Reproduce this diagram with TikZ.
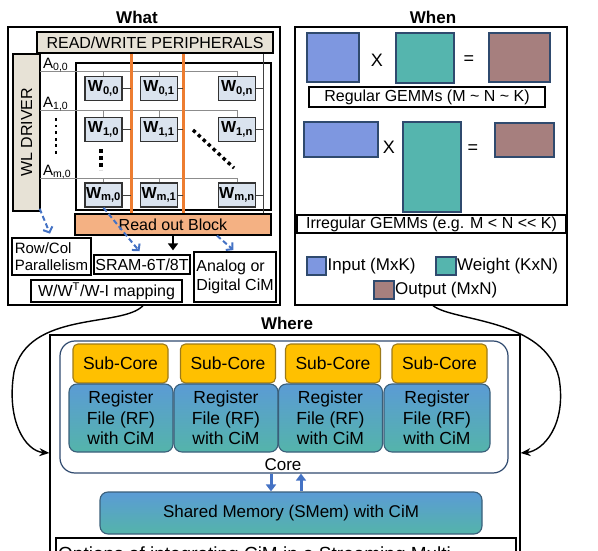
\documentclass[tikz,border=0pt]{standalone}
\usepackage{fontspec}
\setmainfont{Liberation Sans}
\usetikzlibrary{arrows.meta,calc}
\definecolor{peri}{HTML}{E7E2D6}
\definecolor{cellc}{HTML}{DAE3EE}
\definecolor{olin}{HTML}{ED7D31}
\definecolor{readout}{HTML}{F4B183}
\definecolor{dblue}{HTML}{4472C4}
\definecolor{inblue}{HTML}{7E97E0}
\definecolor{wteal}{HTML}{55B5AE}
\definecolor{obrown}{HTML}{A67F7E}
\definecolor{mborder}{HTML}{2F4A6E}
\definecolor{subc}{HTML}{FFC000}
\definecolor{subcb}{HTML}{9C7A1A}
\definecolor{rftop}{HTML}{5B9BD5}
\definecolor{rfbot}{HTML}{54B4AA}
\definecolor{rfbord}{HTML}{3A5F7A}
\begin{document}
\begin{tikzpicture}[x=1pt,y=-1pt,
  box/.style={draw=black,line width=1.3pt,inner sep=0pt},
  ttl/.style={font=\bfseries\fontsize{17}{19}\selectfont,inner sep=0pt},
  fa/.style={font=\fontsize{15}{17}\selectfont},
  fb/.style={font=\fontsize{16}{18}\selectfont},
  fc/.style={font=\fontsize{17}{19}\selectfont},
  cell/.style={draw=black!80,line width=1.5pt,fill=cellc,minimum width=37pt,minimum height=24pt,inner sep=0pt,font=\bfseries\fontsize{16}{18}\selectfont},
  wire/.style={draw=black!45,line width=0.9pt},
  stub/.style={draw=black!75,line width=1pt},
  oline/.style={draw=olin,line width=3pt},
  bdash/.style={draw=dblue,line width=2pt,dash pattern=on 5pt off 3pt,-{Straight Barb[length=4.5pt,width=10pt]}},
  mat/.style={draw=mborder,line width=1.5pt,inner sep=0pt},
  subcore/.style={draw=subcb,line width=1.1pt,fill=subc,rounded corners=5pt,minimum width=95pt,minimum height=39pt,inner sep=0pt,font=\fontsize{17.5}{19}\selectfont},
  rf/.style={draw=rfbord,line width=1.1pt,top color=rftop,bottom color=rfbot,rounded corners=8pt,minimum width=104pt,minimum height=68pt,inner sep=0pt,align=center,font=\fontsize{17.5}{20.5}\selectfont},
  varrow/.style={draw=dblue,line width=3pt,-{Triangle[length=7pt,width=10pt]}},
  carrow/.style={draw=black,line width=1.4pt,-{Stealth[length=10pt,width=8pt]}}
]
\useasboundingbox (0,0) rectangle (598,551);
\clip (0,0) rectangle (598,551);

% ---------------- WHAT ----------------
\node[ttl] (twhat) at (137,17) {What};
\node[box,minimum width=272pt,minimum height=278pt] (what) at (144,166) {};
\node[box,fill=peri,minimum width=236pt,minimum height=21pt,fb] (peri) at (155,42.5) {READ/WRITE PERIPHERALS};
\node[box,fill=peri,minimum width=27pt,minimum height=157pt] (wld) at (26.5,132.5) {};
\node[fb,rotate=90,inner sep=0pt] (wltxt) at (wld.center) {WL DRIVER};
\node[draw=black,line width=1.6pt,minimum width=195pt,minimum height=147pt,inner sep=0pt] (grid) at (173.5,136.5) {};

\coordinate (bl0) at (131,53);
\coordinate (bl1) at (183,53);
\coordinate (bln) at (263,53);
\coordinate (wl0) at (40,71);
\coordinate (wl1) at (40,110);
\coordinate (wlm) at (40,178);

% cells
\node[cell] (w00) at (103.5,88.5) {W\textsubscript{0,0}};
\node[cell] (w01) at (159,88.5) {W\textsubscript{0,1}};
\node[cell] (w0n) at (237,88.5) {W\textsubscript{0,n}};
\node[cell] (w10) at (103.5,129.5) {W\textsubscript{1,0}};
\node[cell] (w11) at (159,129.5) {W\textsubscript{1,1}};
\node[cell] (w1n) at (237,129.5) {W\textsubscript{1,n}};
\node[cell] (wm0) at (103.5,195) {W\textsubscript{m,0}};
\node[cell] (wm1) at (159,195) {W\textsubscript{m,1}};
\node[cell] (wmn) at (237,195) {W\textsubscript{m,n}};

\node[box,fill=readout,minimum width=196pt,minimum height=21pt,fb] (ro) at (173,224.5) {Read out Block};

% word lines
\draw[wire] (wl0) -- (wl0 -| w0n.north);
\draw[wire] (wl1) -- (wl1 -| w1n.north);
\draw[wire] (wlm) -- (wlm -| wmn.north);
\foreach \c in {w00,w01,w0n}{\draw[wire] (\c.north) -- (\c.north |- wl0);}
\foreach \c in {w10,w11,w1n}{\draw[wire] (\c.north) -- (\c.north |- wl1);}
\foreach \c in {wm0,wm1,wmn}{\draw[wire] (\c.north) -- (\c.north |- wlm);}

% bit lines
\draw[oline] (peri.south -| bl0) -- (ro.north -| bl0);
\draw[oline] (peri.south -| bl1) -- (ro.north -| bl1);
\draw[stub] (peri.south -| bln) -- (ro.north -| bln);
\foreach \c in {w00,w10,wm0}{\draw[stub] (\c.east) -- (\c.east -| bl0);}
\foreach \c in {w01,w11,wm1}{\draw[stub] (\c.east) -- (\c.east -| bl1);}
\foreach \c in {w0n,w1n,wmn}{\draw[stub] (\c.east) -- (\c.east -| bln);}

% labels A
\node[fa,anchor=base west,inner sep=0pt] (a00) at (43,68.5) {A\textsubscript{0,0}};
\node[fa,anchor=base west,inner sep=0pt] (a10) at (43,107.5) {A\textsubscript{1,0}};
\node[fa,anchor=base west,inner sep=0pt] (am0) at (43,175.5) {A\textsubscript{m,0}};

% dots
\draw[line width=2.8pt,dash pattern=on 2.8pt off 3.8pt] (56,118) -- (56,157);
\draw[line width=3.6pt,dash pattern=on 3.6pt off 3.4pt] (101,149) -- (101,170);
\draw[line width=3.4pt,dash pattern=on 3.4pt off 3.4pt] (193,130) -- (234,168);

% bottom boxes of What
\node[box,minimum width=79pt,minimum height=37pt,align=left,font=\fontsize{15}{17}\selectfont] (rowcol) at (51.5,256.5) {Row/Col\\Parallelism};
\node[box,minimum width=96pt,minimum height=19pt,fb] (sram) at (142,264.5) {SRAM-6T/8T};
\node[box,minimum width=82pt,minimum height=50pt,align=left,font=\fontsize{16}{19}\selectfont] (analog) at (235,277) {Analog or\\Digital CiM};
\node[box,minimum width=151pt,minimum height=22pt,fb] (mapping) at (106.5,291) {W/W\textsuperscript{T}/W-I mapping};

\draw[line width=2.6pt,-{Triangle[length=7pt,width=10pt]},shorten >=4pt] (ro.south) -- (ro.south |- sram.north);
\draw[bdash,shorten >=4pt] ($(wld.south east)+(-1,-3)$) -- (rowcol.north);
\draw[bdash,shorten >=4pt] (wm0.south) -- (sram.north);
\draw[bdash,shorten >=2pt] (ro.south -| 217,0) -- (analog.north);

% ---------------- WHEN ----------------
\node[ttl] (twhen) at (433,17) {When};
\node[box,minimum width=272pt,minimum height=278pt] (when) at (431,166) {};
\node[mat,fill=inblue,minimum width=52pt,minimum height=49pt] (i1) at (333,57.5) {};
\node[mat,fill=wteal,minimum width=58pt,minimum height=50pt] (k1) at (425,58) {};
\node[mat,fill=obrown,minimum width=61pt,minimum height=49pt] (o1) at (519.5,57.5) {};
\node[font=\fontsize{18}{20}\selectfont,inner sep=0pt] (x1) at (377,60) {X};
\node[font=\fontsize{18}{20}\selectfont,inner sep=0pt] (e1) at (469,60) {=};
\node[box,minimum width=236pt,minimum height=20pt,fb] (reg) at (427,97) {Regular GEMMs (M \textasciitilde{} N \textasciitilde{} K)};

\node[mat,fill=inblue,minimum width=74pt,minimum height=35pt] (i2) at (341,139.5) {};
\node[mat,fill=wteal,minimum width=58pt,minimum height=90pt] (k2) at (432,167) {};
\node[mat,fill=obrown,minimum width=59pt,minimum height=34pt] (o2) at (524.5,140) {};
\node[font=\fontsize{18}{20}\selectfont,inner sep=0pt] (x2) at (389,147) {X};
\node[font=\fontsize{18}{20}\selectfont,inner sep=0pt] (e2) at (473,149) {=};
\node[box,minimum width=269pt,minimum height=18pt,fb] (irr) at (431.5,224) {Irregular GEMMs (e.g. M {<} N {<}{<} K)};

\node[mat,fill=inblue,minimum width=19pt,minimum height=18pt] (li) at (316.5,266) {};
\node[fc,anchor=west,inner sep=0pt] (lit) at (327.5,266) {Input (MxK)};
\node[mat,fill=wteal,minimum width=20pt,minimum height=18pt] (lk) at (446,266) {};
\node[fc,anchor=west,inner sep=0pt] (lkt) at (457,266) {Weight (KxN)};
\node[mat,fill=obrown,minimum width=20pt,minimum height=18pt] (lo) at (384,290) {};
\node[fc,anchor=west,inner sep=0pt] (lot) at (395,290) {Output (MxN)};

% ---------------- WHERE ----------------
\node[ttl] (twhere) at (287,323) {Where};
\node[box,minimum width=470pt,minimum height=275pt] (where) at (285,472.5) {};
\node[draw=mborder,line width=1.2pt,rounded corners=15pt,minimum width=448pt,minimum height=132pt,inner sep=0pt] (core) at (284,407) {};

\node[subcore] (sc1) at (120.5,363.5) {Sub-Core};
\node[subcore] (sc2) at (228,363.5) {Sub-Core};
\node[subcore] (sc3) at (333,363.5) {Sub-Core};
\node[subcore] (sc4) at (439.5,363.5) {Sub-Core};
\node[rf] (rf1) at (121,418) {Register\\File (RF)\\with CiM};
\node[rf] (rf2) at (226,418) {Register\\File (RF)\\with CiM};
\node[rf] (rf3) at (330.5,418) {Register\\File (RF)\\with CiM};
\node[rf,minimum width=106pt] (rf4) at (437,418) {Register\\File (RF)\\with CiM};

\node[fc,inner sep=0pt] (corelbl) at (283,465) {Core};
\node[draw=rfbord,line width=1.1pt,top color=rftop,bottom color=rfbot,rounded corners=8pt,minimum width=382pt,minimum height=42pt,inner sep=0pt,fc] (smem) at (291,513) {Shared Memory (SMem) with CiM};

\coordinate (ad) at (271,0);
\coordinate (au) at (301,0);
\draw[varrow] (core.south -| ad) -- (smem.north -| ad);
\draw[varrow] (smem.north -| au) -- (core.south -| au);

\node[box,minimum width=460pt,minimum height=62pt] (opt) at (286,569) {};
\node[font=\fontsize{19}{21}\selectfont,anchor=north west,inner sep=0pt] (opttxt) at (58,546.5) {Options of integrating CiM in a Streaming Multi};

% curved arrows
\draw[carrow] (what.south -| 143,0) .. controls (122,328) and (28,310) .. (14,372) .. controls (6,420) and (25,451) .. (where.west |- 0,453);
\draw[carrow] (when.south -| 433,0) .. controls (454,322) and (545,318) .. (559,378) .. controls (567,425) and (543,451) .. (where.east |- 0,453);
\end{tikzpicture}
\end{document}
